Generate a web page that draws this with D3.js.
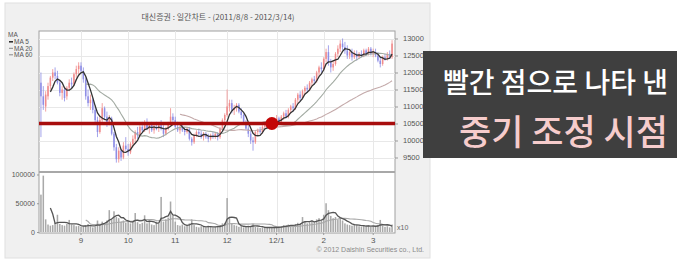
<!DOCTYPE html>
<html>
<head>
<meta charset="utf-8">
<script src="https://d3js.org/d3.v7.min.js"></script>
<style>
  body { margin: 0; background: #fff; }
  svg { display: block; }
</style>
</head>
<body>
<svg id="chart" width="680" height="265"></svg>
<script>
// small stand-in for d3-selection-multi
d3.selection.prototype.attrs = function(map) {
  for (var k in map) this.attr(k, map[k]);
  return this;
};

var width = 680, height = 265;

// daily candles [open, high, low, close], 2011/8/8 - 2012/3/14
var prices = [
  // Aug
  [11700,12000,10100,11300],[11300,11600,10900,11050],[11000,11450,10850,11350],[11300,11700,11200,11600],
  [11600,11900,11500,11850],[11850,12100,11750,12000],[12000,12150,11800,11900],[11900,12050,11650,11700],
  [11700,11750,11300,11400],[11400,11600,11200,11500],[11500,11550,11150,11250],[11300,11600,11200,11550],
  [11550,11800,11450,11700],[11700,11850,11550,11650],[11650,12000,11600,11950],[11950,12200,11850,12100],
  [12100,12300,11950,12200],
  // Sep
  [12200,12300,12000,12050],[12050,12150,11700,11800],[11800,11850,11200,11300],[11300,11500,11000,11100],
  [11100,11350,10900,11200],[11200,11250,10800,10900],[10900,11000,10500,10600],[10600,10700,10100,10250],
  [10250,10700,10200,10600],[10600,11100,10550,10950],[10950,11000,10600,10700],[10700,10850,10400,10500],
  [10500,10750,10450,10650],[10650,10700,10150,10200],[10200,10250,9700,9800],[9800,9900,9350,9450],
  [9450,9800,9350,9700],[9700,9750,9400,9500],[9500,9950,9450,9850],[9850,10100,9700,9750],
  // Oct
  [9750,9900,9550,9650],[9650,9950,9600,9900],[9900,10150,9800,10050],[10050,10300,9950,10250],
  [10250,10400,10050,10150],[10150,10450,10100,10400],[10400,10550,10250,10300],[10300,10600,10250,10500],
  [10500,10650,10300,10350],[10350,10500,10200,10450],[10450,10550,10250,10300],[10300,10500,10200,10400],
  [10400,10550,10300,10350],[10350,10500,10250,10450],[10450,10600,10300,10350],[10350,10450,10100,10200],
  [10200,10400,10150,10350],[10350,10550,10300,10500],[10500,10950,10450,10700],[10700,10800,10500,10600],
  // Nov
  [10600,10700,10350,10400],[10400,10550,10250,10300],[10300,10450,10200,10400],[10400,10500,10250,10300],
  [10300,10400,10150,10250],[10250,10400,10200,10350],[10350,10400,10000,10050],[10050,10100,9850,9950],
  [9950,10200,9900,10150],[10150,10300,10100,10250],[10250,10350,10150,10200],[10200,10300,10050,10100],
  [10100,10250,10000,10200],[10200,10250,10050,10100],[10100,10200,9950,10050],[10050,10200,10000,10150],
  [10150,10250,10050,10100],[10100,10250,10050,10200],[10200,10250,10000,10100],[10100,10400,10050,10350],
  [10350,10650,10300,10600],[10600,10800,10500,10750],
  // Dec
  [10750,11500,10700,11000],[11000,11200,10850,11100],[11100,11200,10800,10900],[10900,11050,10750,10950],
  [10950,11100,10850,11050],[11050,11100,10800,10850],[10850,10950,10650,10750],[10750,10800,10500,10550],
  [10550,10600,10300,10350],[10350,10450,10100,10200],[10200,10300,9900,10000],[10000,10100,9700,9950],
  [9950,10300,9900,10250],[10250,10350,10150,10300],[10300,10400,10200,10250],[10250,10450,10200,10400],
  [10400,10550,10350,10500],[10500,10550,10350,10400],[10400,10600,10350,10550],[10550,10650,10450,10500],
  [10500,10650,10450,10600],
  // Jan 2012
  [10600,10750,10500,10650],[10650,10700,10500,10550],[10550,10750,10500,10700],[10700,10850,10600,10800],
  [10800,10900,10650,10700],[10700,10950,10650,10900],[10900,11050,10800,11000],[11000,11100,10850,10950],
  [10950,11250,10900,11200],[11200,11400,11100,11350],[11350,11450,11150,11250],[11250,11500,11200,11450],
  [11450,11600,11350,11550],[11550,11650,11400,11500],[11500,11750,11450,11700],[11700,11850,11600,11800],
  [11800,11900,11650,11750],[11750,12050,11700,12000],[12000,12200,11900,12150],[12150,12300,12000,12100],
  // Feb
  [12100,12450,12050,12400],[12400,12700,12300,12600],[12600,12800,12200,12300],[12300,12400,12000,12150],
  [12150,12350,12050,12250],[12250,12600,12200,12550],[12550,12800,12450,12700],[12700,12950,12600,12850],
  [12850,13000,12650,12750],[12750,12900,12550,12650],[12650,12800,12400,12500],[12500,12700,12400,12600],
  [12600,12700,12350,12450],[12450,12650,12400,12550],[12550,12650,12350,12450],[12450,12600,12400,12550],
  [12550,12650,12450,12500],[12500,12700,12450,12650],[12650,12700,12500,12550],[12550,12750,12500,12700],
  [12700,12750,12500,12550],
  // Mar
  [12550,12700,12450,12600],[12600,12700,12450,12500],[12500,12600,12300,12350],[12350,12450,12150,12250],
  [12250,12500,12200,12450],[12450,12550,12350,12400],[12400,12600,12350,12550],[12550,12650,12400,12450],
  [12450,12950,12400,12850]
];

var volumes = [
  65000,98000,22000,13000,11000,12000,16000,30000,14000,12000,11000,14000,21000,13000,12000,10000,11000,
  9000,10000,12000,14000,10000,8000,9000,20000,13000,18000,15000,20000,38000,22000,36000,26000,24000,18000,20000,16000,
  19000,15000,18000,33000,17000,14000,16000,29000,15000,20000,13000,12000,18000,14000,61000,18000,22000,25000,53000,28000,
  18000,12000,11000,13000,10000,12000,15000,22000,12000,9000,8000,10000,9000,8000,11000,9000,8000,9000,10000,12000,15000,16000,
  59000,25000,14000,12000,11000,9000,10000,8000,9000,11000,10000,14000,9000,8000,7000,8000,9000,7000,8000,7000,8000,
  9000,8000,10000,12000,11000,13000,12000,10000,14000,16000,15000,26000,18000,15000,17000,20000,18000,22000,24000,20000,
  30000,50000,38000,28000,24000,26000,22000,25000,20000,15000,13000,12000,11000,14000,12000,10000,9000,11000,10000,12000,9000,
  10000,9000,12000,21000,11000,9000,10000,8000,13000
];

var monthStarts = [17, 37, 57, 79, 100, 120, 141];
var monthLabels = ['9', '10', '11', '12', '12/1', '2', '3'];
var priceTicks = [9500, 10000, 10500, 11000, 11500, 12000, 12500, 13000];
var volumeTicks = [0, 50000, 100000];
var maPeriods = [5, 20, 60];
var maColors = ['#333333', '#a3aba3', '#c4aaaa'];
var volMaPeriods = [5, 20];
var volMaColors = ['#555555', '#a8a8a8'];
var supportLevel = 10500;
var markerDay = 98;

var svg = d3.select('#chart');

var plotLeft = 39, plotRight = 395, priceTop = 31, priceBottom = 172, volBottom = 233;

var x = d3.scaleBand()
  .domain(d3.range(prices.length))
  .range([plotLeft, plotRight - 1])
  .paddingInner(0.35)
  .paddingOuter(0.5);
var bw = x.bandwidth();
function cx(i) { return x(i) + bw / 2; }

var y = d3.scaleLinear().domain([9500, 13000]).range([157.5, 38.5]);
var yv = d3.scaleLinear().domain([0, 100000]).range([232, 174.5]);

function movingAverage(values, n) {
  var out = [];
  for (var i = n - 1; i < values.length; i++) {
    out.push({i: i, v: d3.mean(values.slice(i - n + 1, i + 1))});
  }
  return out;
}

// outer frame
svg.append('rect').attrs({x: 5, y: 3, width: 425, height: 255, fill: '#f0f0f0', stroke: '#e0e0e0'});

svg.append('text')
  .attr('x', 218).attr('y', 20)
  .attr('text-anchor', 'middle')
  .style('font', '8px "Noto Sans CJK KR"')
  .style('fill', '#555')
  .text('대신증권 : 일간차트 - (2011/8/8 - 2012/3/14)');

// plot area
svg.append('rect').attrs({x: plotLeft, y: priceTop, width: plotRight - plotLeft, height: volBottom - priceTop, fill: '#fff', stroke: '#a0a0a0'});

var grid = svg.append('g').attr('stroke', '#e8e8e8').attr('stroke-width', 1);
grid.selectAll('line.h')
  .data(priceTicks)
  .enter().append('line')
  .attr('x1', plotLeft).attr('x2', plotRight)
  .attr('y1', function(d) { return Math.round(y(d)) + 0.5; })
  .attr('y2', function(d) { return Math.round(y(d)) + 0.5; });
grid.selectAll('line.v')
  .data(monthStarts)
  .enter().append('line')
  .attr('y1', priceTop).attr('y2', volBottom)
  .attr('x1', function(d) { return Math.round(cx(d)) + 0.5; })
  .attr('x2', function(d) { return Math.round(cx(d)) + 0.5; });

svg.append('line').attrs({x1: plotLeft, x2: plotRight, y1: priceBottom, y2: priceBottom, stroke: '#a8a8a8', 'stroke-width': 2});

// candles
var candles = svg.append('g').selectAll('g')
  .data(prices)
  .enter().append('g')
  .style('color', function(d) { return d[3] >= d[0] ? '#f08c8c' : '#8e8ee6'; });

candles.append('line')
  .attr('x1', function(d, i) { return cx(i); })
  .attr('x2', function(d, i) { return cx(i); })
  .attr('y1', function(d) { return y(d[1]); })
  .attr('y2', function(d) { return y(d[2]); })
  .attr('stroke', 'currentColor')
  .attr('stroke-width', 0.8);

candles.append('rect')
  .attr('x', function(d, i) { return x(i); })
  .attr('width', bw)
  .attr('y', function(d) { return y(Math.max(d[0], d[3])); })
  .attr('height', function(d) { return Math.max(1, Math.abs(y(d[0]) - y(d[3]))); })
  .attr('fill', 'currentColor');

// price moving averages
var closes = prices.map(function(d) { return d[3]; });
var maLine = d3.line()
  .x(function(d) { return cx(d.i); })
  .y(function(d) { return y(d.v); });

maPeriods.slice().reverse().forEach(function(n) {
  var k = maPeriods.indexOf(n);
  svg.append('path')
    .datum(movingAverage(closes, n))
    .attr('d', maLine)
    .attr('fill', 'none')
    .attr('stroke', maColors[k])
    .attr('stroke-width', k === 0 ? 1.3 : 1.1);
});

// support line and marker
svg.append('line')
  .attr('x1', plotLeft).attr('x2', plotRight)
  .attr('y1', y(supportLevel)).attr('y2', y(supportLevel))
  .attr('stroke', '#a80d0d')
  .attr('stroke-width', 3.5);

svg.append('circle')
  .attr('cx', cx(markerDay))
  .attr('cy', y(supportLevel))
  .attr('r', 6.5)
  .attr('fill', '#c30606');

// volume bars
svg.append('g').selectAll('rect')
  .data(volumes)
  .enter().append('rect')
  .attr('x', function(d, i) { return x(i); })
  .attr('width', bw)
  .attr('y', function(d) { return yv(d); })
  .attr('height', function(d) { return yv(0) - yv(d); })
  .attr('fill', '#a9a9a9');

var volLine = d3.line()
  .x(function(d) { return cx(d.i); })
  .y(function(d) { return yv(d.v); });

volMaPeriods.slice().reverse().forEach(function(n) {
  var k = volMaPeriods.indexOf(n);
  svg.append('path')
    .datum(movingAverage(volumes, n))
    .attr('d', volLine)
    .attr('fill', 'none')
    .attr('stroke', volMaColors[k])
    .attr('stroke-width', k === 0 ? 1.3 : 1.1);
});

// axes
var priceAxis = svg.append('g')
  .attr('transform', 'translate(' + plotRight + ',0)')
  .call(d3.axisRight(y).tickValues(priceTicks).tickFormat(d3.format('d')).tickSize(3).tickPadding(5));

var volAxis = svg.append('g')
  .attr('transform', 'translate(' + plotLeft + ',0)')
  .call(d3.axisLeft(yv).tickValues(volumeTicks).tickFormat(d3.format('d')).tickSize(2).tickPadding(2));

var timeAxis = svg.append('g')
  .attr('transform', 'translate(0,' + volBottom + ')')
  .call(d3.axisBottom(x)
    .tickValues(monthStarts)
    .tickFormat(function(d) { return monthLabels[monthStarts.indexOf(d)]; })
    .tickSize(2).tickPadding(2));

[priceAxis, volAxis, timeAxis].forEach(function(a) {
  a.select('.domain').remove();
  a.selectAll('line').attr('stroke', '#999');
  a.selectAll('text')
    .style('font-family', '"Liberation Sans", Arial, sans-serif')
    .style('font-size', '7.5px')
    .style('fill', '#555');
});
timeAxis.selectAll('text').style('font-size', '8px');
volAxis.selectAll('text').style('font-size', '7px');

svg.append('text')
  .attr('x', 397).attr('y', 230)
  .style('font', '7px "Liberation Sans", Arial, sans-serif')
  .style('fill', '#666')
  .text('x10');

// legend
var legend = svg.append('g').style('font', '6.5px "Liberation Sans", Arial, sans-serif').style('fill', '#555');
legend.append('text').attr('x', 8).attr('y', 37).text('MA');
maPeriods.forEach(function(n, k) {
  var ly = 44 + k * 6.5;
  legend.append('line').attrs({x1: 9, x2: 13, y1: ly - 2.2, y2: ly - 2.2, stroke: k === 0 ? '#222' : '#888', 'stroke-width': k === 0 ? 1.5 : 1});
  legend.append('text').attr('x', 14).attr('y', ly).text('MA ' + n);
});

svg.append('text')
  .attr('x', 424).attr('y', 252)
  .attr('text-anchor', 'end')
  .style('font', '7px "Liberation Sans", Arial, sans-serif')
  .style('fill', '#8a8a8a')
  .text('© 2012 Daishin Securities co., Ltd.');

// caption box
svg.append('rect').attrs({x: 423, y: 51, width: 254, height: 107, fill: '#3f3f3f'});

svg.append('text')
  .attr('x', 668).attr('y', 81)
  .attr('text-anchor', 'end')
  .attr('dominant-baseline', 'central')
  .style('font', '500 28px "Noto Sans CJK KR"')
  .style('fill', '#ffffff')
  .text('빨간 점으로 나타 낸');

svg.append('text')
  .attr('x', 668).attr('y', 129)
  .attr('text-anchor', 'end')
  .attr('dominant-baseline', 'central')
  .style('font', '500 35px "Noto Sans CJK KR"')
  .style('fill', '#f6cccc')
  .text('중기 조정 시점');
</script>
</body>
</html>
